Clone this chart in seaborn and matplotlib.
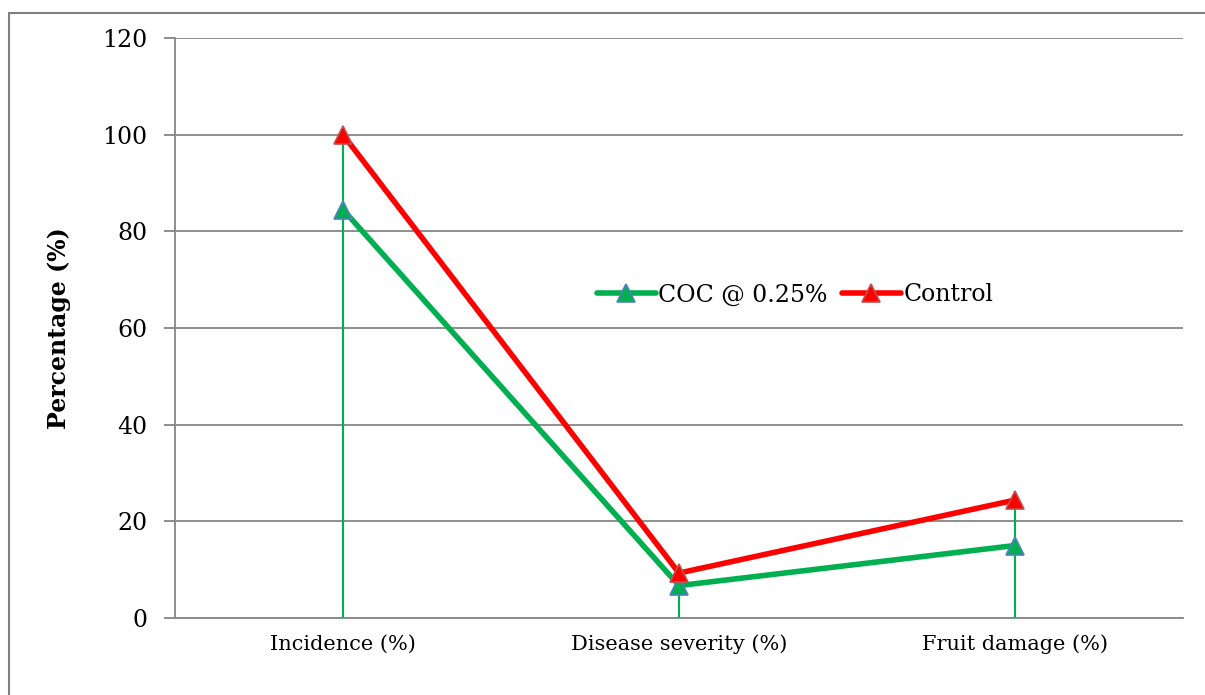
import matplotlib
matplotlib.use("Agg")
import matplotlib.pyplot as plt
from matplotlib.lines import Line2D
import seaborn as sns
import pandas as pd
import numpy as np

categories = ["Incidence (%)", "Disease severity (%)", "Fruit damage (%)"]
coc_values = [84.5, 6.7, 15.0]
control_values = [100.0, 9.3, 24.4]
series_names = ["COC @ 0.25%", "Control"]
yticks = [0, 20, 40, 60, 80, 100, 120]

sns.set_theme(style="white")
plt.rcParams['font.family'] = ['DejaVu Serif']
plt.rcParams['text.color'] = 'black'
plt.rcParams['axes.labelcolor'] = 'black'
plt.rcParams['xtick.color'] = 'black'
plt.rcParams['ytick.color'] = 'black'

df = pd.DataFrame({
    "cat": categories * 2,
    "x": list(range(len(categories))) * 2,
    "value": coc_values + control_values,
    "series": [series_names[0]] * 3 + [series_names[1]] * 3,
})

fig = plt.figure(figsize=(12.05, 6.95), dpi=100)
ax = fig.add_axes([175/1205, 1-618/695, (1183-175)/1205, (618-38)/695])

grid_col = "#868686"
# drop lines
tops = np.maximum(coc_values, control_values)
ax.vlines(range(len(categories)), 0, tops, color="#00b050", lw=1.5, zorder=2)

line_cols = {"COC @ 0.25%": "#00b050", "Control": "#ff0000"}
edge_cols = {"COC @ 0.25%": "#4f81bd", "Control": "#c0504d"}
for name in series_names:
    sub = df[df.series == name]
    sns.lineplot(data=sub, x="x", y="value", ax=ax, color=line_cols[name], lw=4,
                 marker="^", markersize=12.5, markerfacecolor=line_cols[name],
                 markeredgecolor=edge_cols[name], markeredgewidth=1.2,
                 label=name, zorder=3)

ax.set_xlim(-0.5, 2.5)
ax.set_ylim(0, 120)
ax.set_yticks(yticks)
ax.set_yticklabels([str(t) for t in yticks], fontsize=17)
ax.set_xticks(range(len(categories)))
ax.set_xticklabels(categories, fontsize=15)
ax.set_xlabel("")
ax.set_ylabel("Percentage (%)", fontsize=17, fontweight="bold", labelpad=22)
ax.grid(axis="y", color=grid_col, lw=1.3)
ax.set_axisbelow(True)
for s in ["top", "right"]:
    ax.spines[s].set_visible(False)
for s in ["left", "bottom"]:
    ax.spines[s].set_color(grid_col)
    ax.spines[s].set_linewidth(1.3)
ax.tick_params(axis="y", which="both", left=True, length=8, color=grid_col, width=1.3, pad=12,
               labelcolor="black")
ax.tick_params(axis="x", length=0, pad=12, labelcolor="black")

leg = ax.legend(loc="center", bbox_to_anchor=(0.5 + (795-679)/1008, 1-(295-38)/580),
                ncol=2, frameon=False, fontsize=17, handlelength=2.5, columnspacing=0.6,
                handletextpad=0.1)
for t in leg.get_texts():
    t.set_color("black")

# outer frame
fig.add_artist(Line2D([9/1205, 9/1205], [0, 1-13/695], color="#808080", lw=1.5))
fig.add_artist(Line2D([9/1205, 1], [1-13/695, 1-13/695], color="#808080", lw=1.5))

fig.savefig("out.png", dpi=100)
